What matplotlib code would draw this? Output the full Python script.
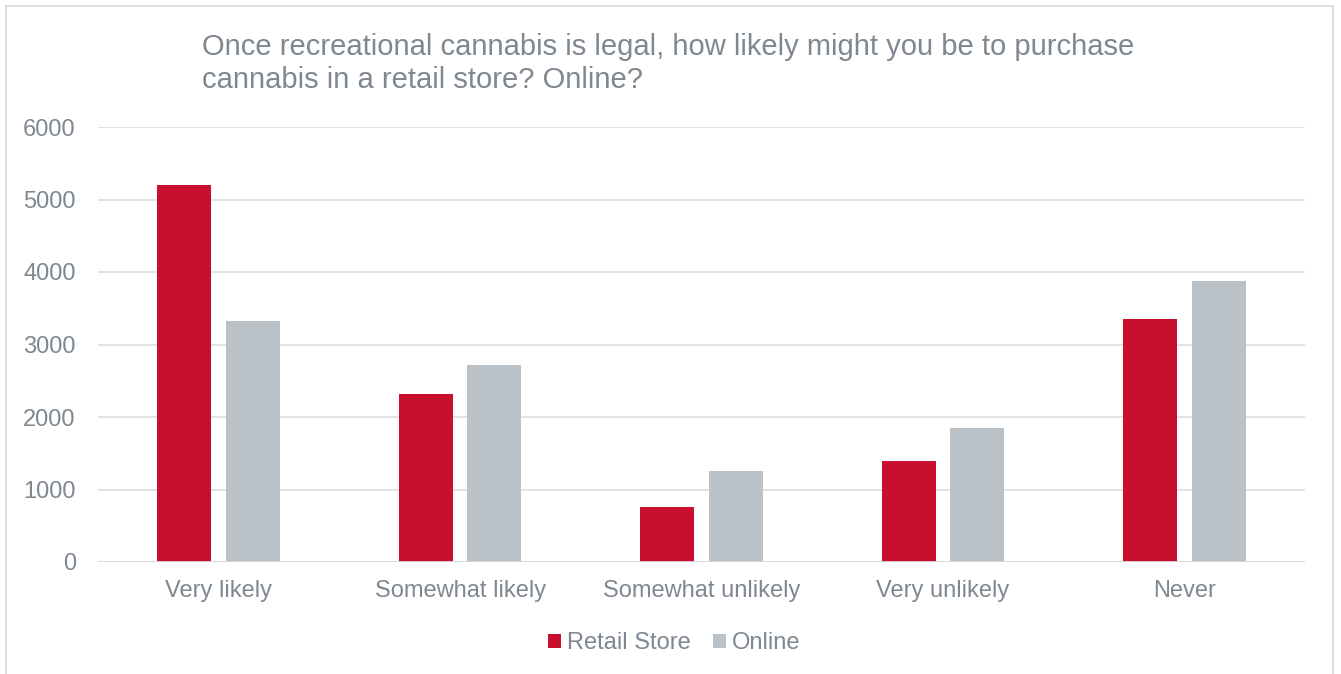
import matplotlib
matplotlib.use("Agg")
import matplotlib.pyplot as plt
from matplotlib.patches import Rectangle, Patch
import numpy as np

categories = ["Very likely", "Somewhat likely", "Somewhat unlikely", "Very unlikely", "Never"]
retail = [5200, 2320, 765, 1390, 3345]
online = [3330, 2718, 1254, 1847, 3875]
series_names = ["Retail Store", "Online"]
yticks = [0, 1000, 2000, 3000, 4000, 5000, 6000]
title = "Once recreational cannabis is legal, how likely might you be to purchase\ncannabis in a retail store? Online?"

RED = "#C8102E"
GRAY = "#BAC1C7"
TXT = "#7F8790"
GRID = "#E0E0E0"

plt.rcParams['font.family'] = ['Liberation Sans', 'DejaVu Sans']

W, H = 1341, 674
fig = plt.figure(figsize=(W/100, H/100), dpi=100)
fig.patch.set_facecolor("white")

# outer border
fig.patches.append(Rectangle((6/W, -0.05), (1333-6)/W, 1.05 - 6/H, transform=fig.transFigure,
                             fill=False, edgecolor="#D9D9D9", linewidth=1.2))

ax = fig.add_axes([98/W, 1-562/H, (1305-98)/W, (562-127)/H])
x = np.arange(len(categories))
bw = 0.224
off = 0.142
ax.bar(x - off, retail, width=bw, color=RED, label=series_names[0], zorder=3)
ax.bar(x + off, online, width=bw, color=GRAY, label=series_names[1], zorder=3)

ax.set_xlim(-0.5, len(categories) - 0.5)
ax.set_ylim(0, 6000)
ax.set_yticks(yticks)
ax.set_yticklabels([str(v) for v in yticks], fontsize=17, color=TXT)
ax.set_xticks(x)
ax.set_xticklabels(categories, fontsize=17, color=TXT)
ax.tick_params(axis='both', length=0)
ax.tick_params(axis='y', pad=16)
ax.tick_params(axis='x', pad=13)
ax.yaxis.grid(True, color=GRID, linewidth=1.3, zorder=0)
for s in ax.spines.values():
    s.set_visible(False)
ax.axhline(0, color="#D9D9D9", linewidth=1.3, zorder=4)

fig.text(202/W, 1-33/H, title, fontsize=21, color=TXT, va="top", ha="left", linespacing=1.22)

handles = [Patch(facecolor=RED), Patch(facecolor=GRAY)]
fig.legend(handles, series_names, loc="center", bbox_to_anchor=(674/W, 1-643/H), ncol=2,
           frameon=False, fontsize=17, labelcolor=TXT, handlelength=0.55, handleheight=0.55,
           handletextpad=0.25, columnspacing=0.95)

fig.savefig("out.png", dpi=100, facecolor="white")
